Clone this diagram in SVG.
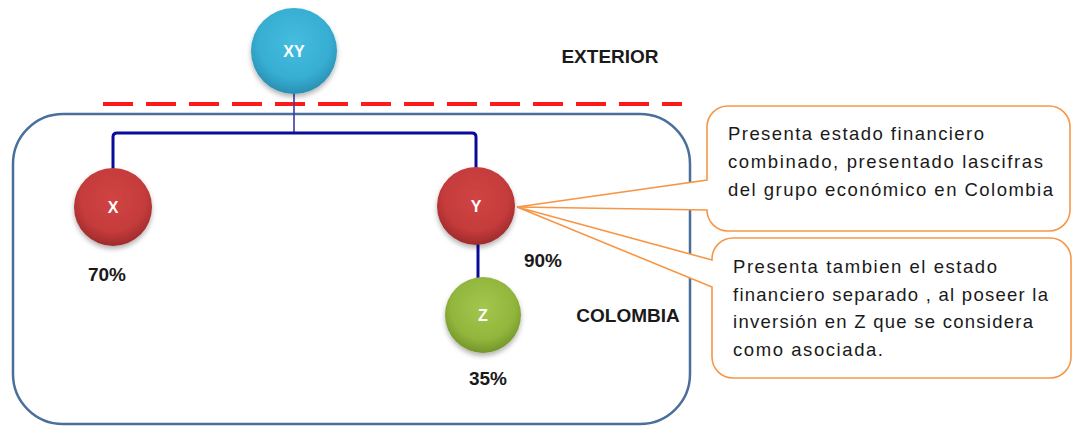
<svg xmlns="http://www.w3.org/2000/svg" width="1073" height="427" viewBox="0 0 1073 427">
<defs>
<radialGradient id="gBlue" cx="50%" cy="40%" r="60%">
<stop offset="0" stop-color="#45bddf"/><stop offset="0.7" stop-color="#36aed2"/><stop offset="1" stop-color="#2a8fb2"/>
</radialGradient>
<radialGradient id="gRed" cx="50%" cy="40%" r="60%">
<stop offset="0" stop-color="#d04444"/><stop offset="0.7" stop-color="#c53b3b"/><stop offset="1" stop-color="#9e2b2b"/>
</radialGradient>
<radialGradient id="gGreen" cx="50%" cy="40%" r="60%">
<stop offset="0" stop-color="#a3c64e"/><stop offset="0.7" stop-color="#92b63c"/><stop offset="1" stop-color="#73952a"/>
</radialGradient>
<filter id="sh" x="-20%" y="-20%" width="140%" height="150%">
<feDropShadow dx="0" dy="3" stdDeviation="2.5" flood-color="#000" flood-opacity="0.3"/>
</filter>
<style>
.node-label{font-family:"Liberation Sans",Arial,sans-serif;font-weight:bold;font-size:16px;fill:#ffffff;text-anchor:middle}
.lbl{font-family:"Liberation Sans",Arial,sans-serif;font-weight:bold;font-size:19px;fill:#1a1a1a;text-anchor:middle}
.ct{font-family:"Liberation Sans",Arial,sans-serif;font-size:18.5px;fill:#1a1a1a}
.callout{fill:#ffffff;stroke:#f79646;stroke-width:1.6}
.tree{fill:none;stroke:#0a0a9c;stroke-width:3}
</style>
</defs>
<rect width="1073" height="427" fill="#ffffff"/>

<g id="colombia-region">
<rect x="13" y="114" width="677" height="310" rx="50" ry="50" fill="none" stroke="#4a6f9a" stroke-width="2.5"/>
</g>

<g id="border-line">
<line x1="103" y1="104" x2="682" y2="104" stroke="#ff1a1a" stroke-width="4" stroke-dasharray="30 13"/>
</g>

<g id="connectors">
<line x1="294" y1="92" x2="294" y2="134" stroke="#3c3caa" stroke-width="1.6"/>
<path class="tree" d="M113 169 V137 Q113 133 117 133 H472 Q476 133 476 137 V169"/>
<line class="tree" x1="478" y1="243" x2="478" y2="278"/>
</g>

<g id="callout-1">
<path class="callout" d="M728 106 H1049 A21 21 0 0 1 1070 127 V210 A21 21 0 0 1 1049 231 H728 A21 21 0 0 1 707 210 L517 207 L707 180 V127 A21 21 0 0 1 728 106 Z"/>
<text class="ct" x="728" y="140" textLength="256" lengthAdjust="spacing">Presenta estado financiero</text>
<text class="ct" x="728" y="168" textLength="315" lengthAdjust="spacing">combinado, presentado lascifras</text>
<text class="ct" x="728" y="196" textLength="325" lengthAdjust="spacing">del grupo económico en Colombia</text>
</g>

<g id="callout-2">
<path class="callout" d="M733 238 H1050 A21 21 0 0 1 1071 259 V357 A21 21 0 0 1 1050 378 H733 A21 21 0 0 1 712 357 V287 L517 207 L712 260 V259 A21 21 0 0 1 733 238 Z"/>
<text class="ct" x="733" y="273" textLength="264" lengthAdjust="spacing">Presenta tambien el estado</text>
<text class="ct" x="733" y="301" textLength="315" lengthAdjust="spacing">financiero separado , al poseer la</text>
<text class="ct" x="733" y="328" textLength="300" lengthAdjust="spacing">inversión en Z que se considera</text>
<text class="ct" x="733" y="356" textLength="150" lengthAdjust="spacing">como asociada.</text>
</g>

<g id="node-XY">
<circle cx="294" cy="51" r="43" fill="url(#gBlue)" filter="url(#sh)"/>
<text class="node-label" x="294" y="57">XY</text>
</g>

<g id="node-X">
<circle cx="113" cy="207" r="39" fill="url(#gRed)" filter="url(#sh)"/>
<text class="node-label" x="113" y="213">X</text>
</g>

<g id="node-Y">
<circle cx="476" cy="206" r="39" fill="url(#gRed)" filter="url(#sh)"/>
<text class="node-label" x="476" y="212">Y</text>
</g>

<g id="node-Z">
<circle cx="483" cy="315" r="38" fill="url(#gGreen)" filter="url(#sh)"/>
<text class="node-label" x="483" y="321">Z</text>
</g>

<g id="labels">
<text class="lbl" x="610" y="63">EXTERIOR</text>
<text class="lbl" x="628" y="322">COLOMBIA</text>
<text class="lbl" x="107" y="281">70%</text>
<text class="lbl" x="543" y="267">90%</text>
<text class="lbl" x="488" y="385">35%</text>
</g>
</svg>
